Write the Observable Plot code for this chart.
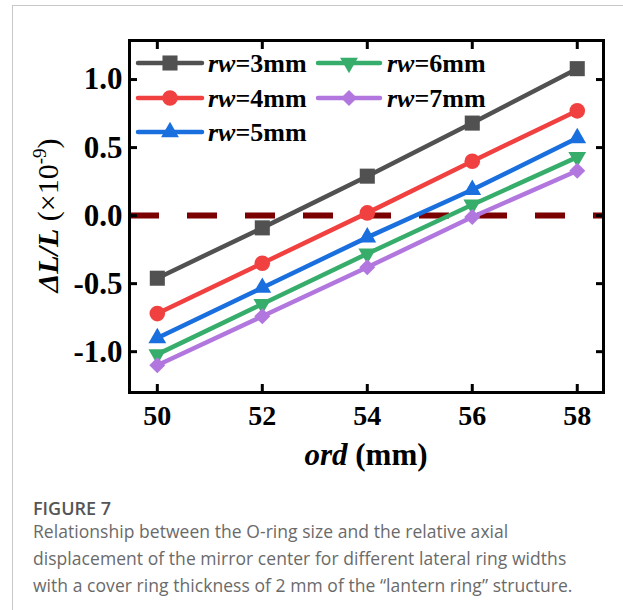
<!DOCTYPE html>
<html><head><meta charset="utf-8">
<script src="https://cdn.jsdelivr.net/npm/d3@7"></script>
<script src="https://cdn.jsdelivr.net/npm/@observablehq/plot@0.6"></script>
<style>
body{margin:0;background:#fff;width:623px;height:610px;overflow:hidden;position:relative;}
#box{position:absolute;left:12px;top:5px;width:640px;height:640px;border-left:1px solid #c8c8c8;border-top:1px solid #c8c8c8;}
#chart{position:absolute;left:0;top:0;}
.cap{position:absolute;left:33px;font-family:"Open Sans",sans-serif;white-space:nowrap;}
#fig{top:495px;font-size:18px;line-height:27px;color:#555;font-weight:600;}
#txt{top:518px;font-size:17.5px;line-height:27px;color:#6a6a6a;letter-spacing:0.05px;}
</style></head>
<body>
<div id="box"></div>
<div id="chart"></div>
<div class="cap" id="fig">FIGURE 7</div>
<div class="cap" id="txt">Relationship between the O-ring size and the relative axial<br>displacement of the mirror center for different lateral ring widths<br>with a cover ring thickness of 2 mm of the “lantern ring” structure.</div>
<script>
const ord = [50, 52, 54, 56, 58];
const rw3 = [-0.46, -0.09, 0.29, 0.68, 1.08];
const rw4 = [-0.72, -0.35, 0.02, 0.40, 0.77];
const rw5 = [-0.90, -0.53, -0.16, 0.19, 0.57];
const rw6 = [-1.02, -0.65, -0.28, 0.08, 0.43];
const rw7 = [-1.10, -0.74, -0.38, -0.01, 0.33];
const widths = [3, 4, 5, 6, 7];
const xTicks = [50, 52, 54, 56, 58];
const yTicks = [-1.0, -0.5, 0.0, 0.5, 1.0];

const seriesVals = [rw3, rw4, rw5, rw6, rw7];
const colors = ["#515151", "#F14040", "#1A6FDF", "#37AD6B", "#B177DE"];
const symbols = ["square", "circle", "triangle", "triangle", "diamond2"];
const d3symbols = [d3.symbolSquare, d3.symbolCircle, d3.symbolTriangle, d3.symbolTriangle, d3.symbolDiamond2];
const rots = [0, 0, 0, 180, 0];
const radii = [8.5, 7.8, 6.6, 6.6, 7.2];

const series = seriesVals.map((vals, i) => ord.map((x, j) => ({x, y: vals[j], s: i})));

const marks = [
  Plot.ruleY([0], {stroke: "#7B0000", strokeWidth: 6, strokeDasharray: "30,28"})
];
series.forEach((rows, i) => {
  marks.push(Plot.line(rows, {x: "x", y: "y", stroke: colors[i], strokeWidth: 4.5}));
  marks.push(Plot.dot(rows, {x: "x", y: "y", symbol: symbols[i], r: radii[i], fill: colors[i], rotate: rots[i]}));
});
marks.push(
  Plot.frame({stroke: "black", strokeWidth: 3}),
  Plot.axisX({anchor: "bottom", ticks: xTicks, tickSize: 0, tickPadding: 13, fontSize: 28, fontWeight: "bold", label: null, tickFormat: d => String(d)}),
  Plot.axisX({anchor: "bottom", ticks: xTicks, tickSize: -8, strokeWidth: 3, tickFormat: () => "", label: null}),
  Plot.axisX({anchor: "top", ticks: xTicks, tickSize: -8, strokeWidth: 3, tickFormat: () => "", label: null}),
  Plot.axisY({anchor: "left", ticks: yTicks, tickSize: 0, tickPadding: 7, fontSize: 31, fontWeight: "bold", label: null, tickFormat: d => d.toFixed(1)}),
  Plot.axisY({anchor: "left", ticks: yTicks, tickSize: -8, strokeWidth: 3, tickFormat: () => "", label: null}),
  Plot.axisY({anchor: "right", ticks: yTicks, tickSize: -8, strokeWidth: 3, tickFormat: () => "", label: null})
);

const svg = Plot.plot({
  width: 623, height: 470,
  marginLeft: 129, marginRight: 20, marginTop: 40, marginBottom: 78,
  x: {domain: [49.47, 58.5]},
  y: {domain: [-1.3, 1.287]},
  style: {fontFamily: "'Liberation Serif', 'Times New Roman', serif", color: "black", background: "transparent", overflow: "visible"},
  marks
});
document.getElementById("chart").appendChild(svg);

const s = d3.select(svg);
// x axis label
const xl = s.append("text").attr("x", 366).attr("y", 465).attr("text-anchor", "middle")
  .attr("font-size", 31).attr("font-weight", "bold").attr("fill", "black");
xl.append("tspan").attr("font-style", "italic").text("ord");
xl.append("tspan").text(" (mm)");
// y axis label
const yl = s.append("text").attr("transform", "translate(58,215.5) rotate(-90)").attr("text-anchor", "middle")
  .attr("font-size", 30).attr("fill", "black");
yl.append("tspan").attr("font-style", "italic").attr("font-weight", "bold").text("ΔL/L");
yl.append("tspan").text(" (×10");
yl.append("tspan").attr("font-size", 19).attr("dy", -12).text("-9");
yl.append("tspan").attr("dy", 12).text(")");

// legend
const lineX = [[138, 202], [318, 380]];
const textX = [208, 387];
const rowY = [63, 98, 132];
widths.forEach((w, i) => {
  const col = i < 3 ? 0 : 1, row = i < 3 ? i : i - 3;
  const y = rowY[row];
  const g = s.append("g");
  g.append("line").attr("x1", lineX[col][0]).attr("x2", lineX[col][1]).attr("y1", y).attr("y2", y)
    .attr("stroke", colors[i]).attr("stroke-width", 4.5).attr("stroke-linecap", "round");
  const cx = (lineX[col][0] + lineX[col][1]) / 2;
  g.append("path").attr("d", d3.symbol(d3symbols[i], Math.PI * radii[i] * radii[i])())
    .attr("transform", `translate(${cx},${y}) rotate(${rots[i]})`).attr("fill", colors[i]);
  const t = g.append("text").attr("x", textX[col]).attr("y", y + 9).attr("text-anchor", "start")
    .attr("font-size", 26).attr("font-weight", "bold").attr("fill", "black");
  t.append("tspan").attr("font-style", "italic").text("rw");
  t.append("tspan").text(`=${w}mm`);
});
</script>
</body></html>
